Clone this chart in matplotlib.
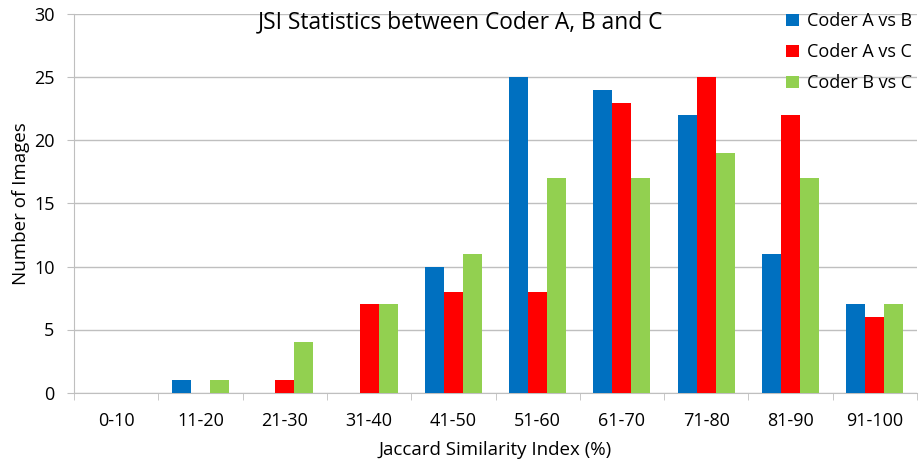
import matplotlib
matplotlib.use("Agg")
import matplotlib.pyplot as plt
import numpy as np

categories = ["0-10", "11-20", "21-30", "31-40", "41-50", "51-60", "61-70", "71-80", "81-90", "91-100"]
a_vs_b = [0, 1, 0, 0, 10, 25, 24, 22, 11, 7]
a_vs_c = [0, 0, 1, 7, 8, 8, 23, 25, 22, 6]
b_vs_c = [0, 1, 4, 7, 11, 17, 17, 19, 17, 7]
series = [("Coder A vs B", a_vs_b, "#0070C0"),
          ("Coder A vs C", a_vs_c, "#FF0000"),
          ("Coder B vs C", b_vs_c, "#92D050")]

plt.rcParams['font.family'] = ['Open Sans', 'DejaVu Sans']
fig = plt.figure(figsize=(9.21, 4.62), dpi=100)
ax = fig.add_axes([74/921, 1-392.5/462, (917-74)/921, (392.5-14.5)/462])

x = np.arange(len(categories))
w = 0.225
grid_c = "#bfbfbf"
for i, (name, vals, col) in enumerate(series):
    pos = x + (i - 1) * w
    ax.bar(pos, vals, width=w, color=col, label=name, zorder=3)

ax.set_xlim(-0.5, len(categories) - 0.5)
ax.set_ylim(0, 30)
ax.set_yticks(range(0, 31, 5))
ax.set_xticks(x)
ax.set_xticklabels(categories)
ax.set_xticks(np.arange(-0.5, len(categories) + 0.5, 1), minor=True)
ax.tick_params(axis="x", which="major", length=0, labelsize=13, pad=14)
ax.tick_params(axis="x", which="minor", length=5, color=grid_c)
ax.tick_params(axis="y", length=5, color=grid_c, labelsize=13, pad=9)
ax.yaxis.grid(True, color=grid_c, linewidth=1, zorder=0)
for s in ["top", "right"]:
    ax.spines[s].set_visible(False)
for s in ["left", "bottom"]:
    ax.spines[s].set_color(grid_c)
ax.set_xlabel("Jaccard Similarity Index (%)", fontsize=13.5, labelpad=8)
ax.set_ylabel("Number of Images", fontsize=13.5, labelpad=3)
ax.text(0.459, 0.964, "JSI Statistics between Coder A, B and C", transform=ax.transAxes,
        ha="center", va="baseline", fontsize=16.4)

leg = ax.legend(loc="upper right", bbox_to_anchor=(1.003, 1.025), frameon=False, fontsize=13,
                handlelength=0.7, handleheight=0.7, handletextpad=0.45, labelspacing=0.72, borderaxespad=0)
fig.savefig("out.png", dpi=100)
